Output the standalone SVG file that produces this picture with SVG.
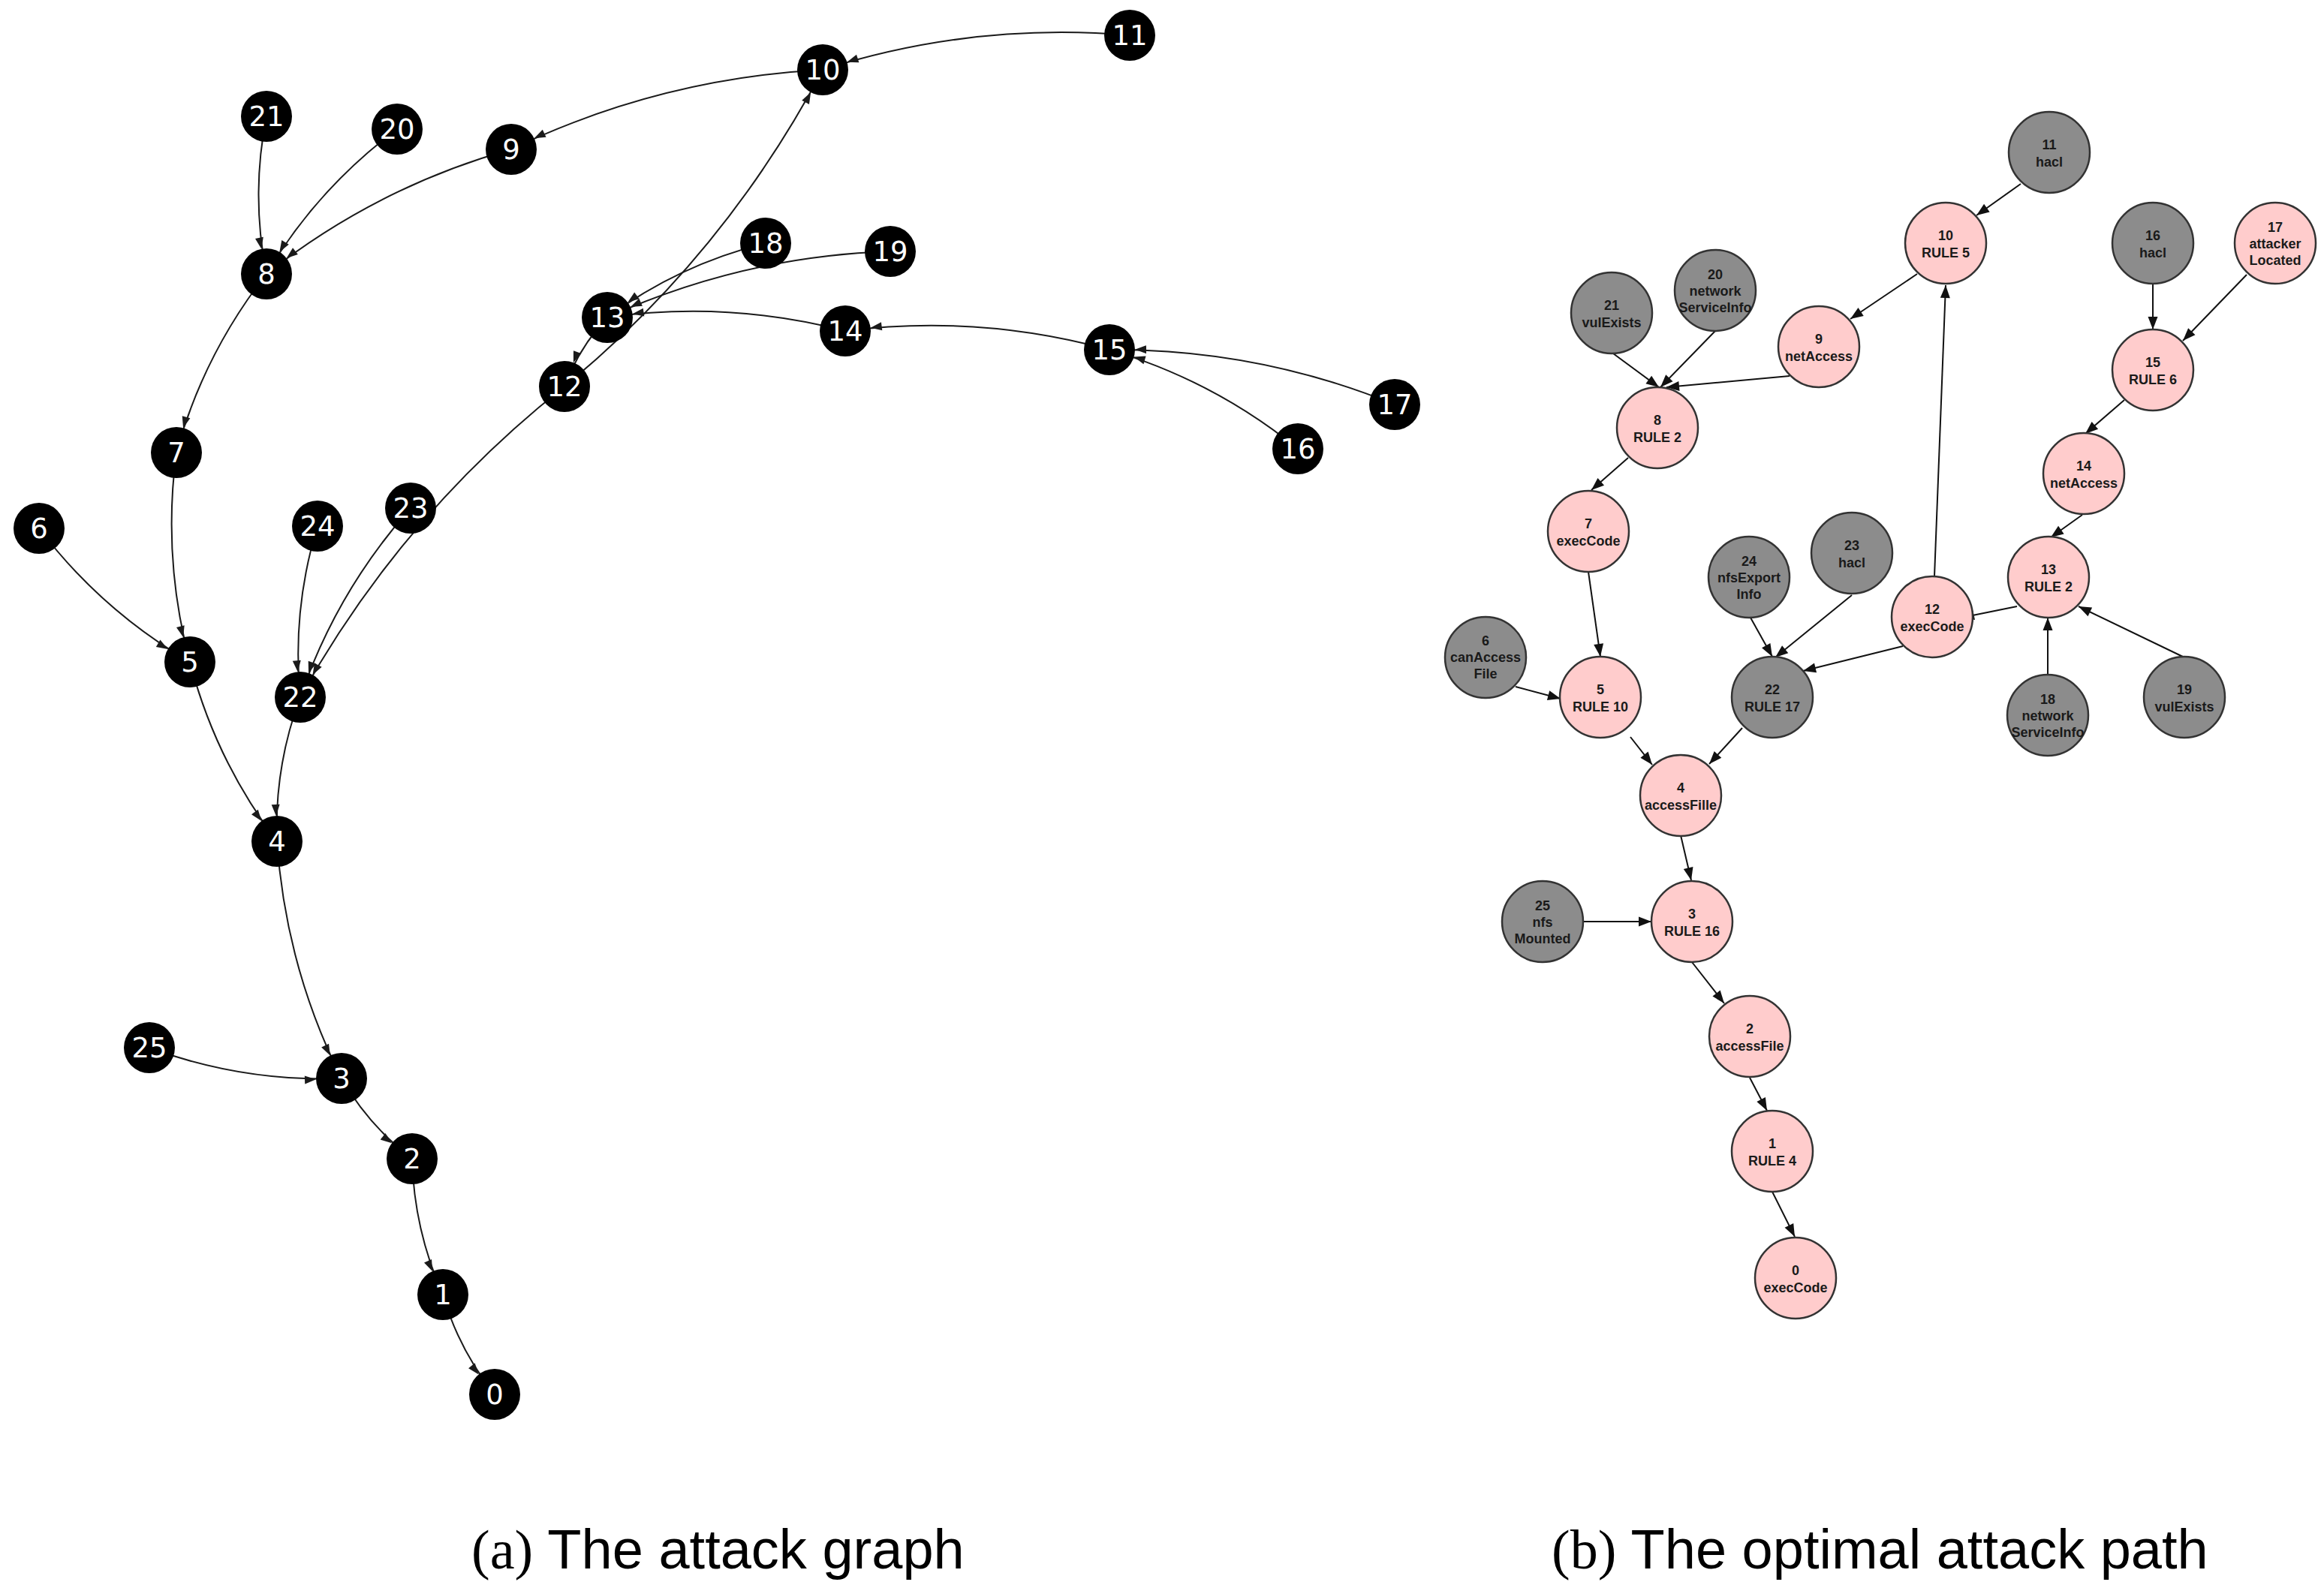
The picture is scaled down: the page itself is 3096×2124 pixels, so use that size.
<svg xmlns="http://www.w3.org/2000/svg" width="3096" height="2124" viewBox="0 0 3096 2124">
<style>
.lk path{fill:none;stroke:#1a1a1a;stroke-width:2;marker-end:url(#al)}
.rk line{stroke:#111;stroke-width:2;marker-end:url(#ar)}
.ln circle{fill:#000}
.ln text{fill:#fff;font-family:"DejaVu Sans",sans-serif;font-size:37px;text-anchor:middle}
.rn circle{stroke:#333;stroke-width:2.5}
.pk circle{fill:#ffcccc}
.gy circle{fill:#8c8c8c}
.rn text{fill:#1a1a1a;font-family:"Liberation Sans",Arial,sans-serif;font-size:18px;font-weight:bold;text-anchor:middle}
.cap{font-family:"Liberation Sans",Arial,sans-serif;font-size:74px;fill:#000}
.cap tspan.s{font-family:"Liberation Serif","Times New Roman",serif}
</style>
<defs>
<marker id="al" markerUnits="userSpaceOnUse" viewBox="-60 -10 70 20" markerWidth="70" markerHeight="20" refX="0" refY="0" orient="auto" overflow="visible">
<path d="M-34,0 L-49,-5.5 L-49,5.5 z" fill="#1a1a1a"/>
</marker>
<marker id="ar" markerUnits="userSpaceOnUse" viewBox="-30 -10 40 20" markerWidth="40" markerHeight="20" refX="0" refY="0" orient="auto" overflow="visible">
<path d="M0,0 L-17,-6.5 L-17,6.5 z" fill="#111"/>
</marker>
</defs>
<rect x="0" y="0" width="3096" height="2124" fill="#fff"/>

<g id="a-edges" class="lk">
<path d="M1505,47 Q1295.9,29.1 1096,93"/>
<path d="M1096,93 Q877.9,104.5 681,199"/>
<path d="M681,199 Q501.4,249.4 355,365"/>
<path d="M355,155 Q334,260 355,365"/>
<path d="M529,172 Q422.7,251.1 355,365"/>
<path d="M355,365 Q271.2,472 235,603"/>
<path d="M235,603 Q216.1,744.3 253,882"/>
<path d="M52,704 Q134.7,813.1 253,882"/>
<path d="M253,882 Q287.1,1013.1 369,1121"/>
<path d="M400,929 Q365.3,1021.9 369,1121"/>
<path d="M423,701 Q388.7,812.7 400,929"/>
<path d="M547,677 Q448.3,788.3 400,929"/>
<path d="M752,515 Q534.6,686.8 400,929"/>
<path d="M752,515 Q966.2,338.4 1096,93"/>
<path d="M809,423 Q771.3,463.3 752,515"/>
<path d="M1126,441 Q969.3,400.3 809,423"/>
<path d="M1478,466 Q1304.5,418.3 1126,441"/>
<path d="M1729,598 Q1616.7,506.9 1478,466"/>
<path d="M1858,539 Q1675.3,464.5 1478,466"/>
<path d="M1020,324 Q904.6,352.4 809,423"/>
<path d="M1186,335 Q988.7,341.3 809,423"/>
<path d="M369,1121 Q380.4,1287.6 455,1437"/>
<path d="M199,1396 Q322.9,1442.1 455,1437"/>
<path d="M455,1437 Q491.3,1499.9 549,1544"/>
<path d="M549,1544 Q551.4,1638.6 590,1725"/>
<path d="M590,1725 Q611.2,1798.4 659,1858"/>
</g>

<g id="a-n0" class="ln"><circle cx="659" cy="1858" r="34"/><text x="659" y="1871">0</text></g>
<g id="a-n1" class="ln"><circle cx="590" cy="1725" r="34"/><text x="590" y="1738">1</text></g>
<g id="a-n2" class="ln"><circle cx="549" cy="1544" r="34"/><text x="549" y="1557">2</text></g>
<g id="a-n3" class="ln"><circle cx="455" cy="1437" r="34"/><text x="455" y="1450">3</text></g>
<g id="a-n4" class="ln"><circle cx="369" cy="1121" r="34"/><text x="369" y="1134">4</text></g>
<g id="a-n5" class="ln"><circle cx="253" cy="882" r="34"/><text x="253" y="895">5</text></g>
<g id="a-n6" class="ln"><circle cx="52" cy="704" r="34"/><text x="52" y="717">6</text></g>
<g id="a-n7" class="ln"><circle cx="235" cy="603" r="34"/><text x="235" y="616">7</text></g>
<g id="a-n8" class="ln"><circle cx="355" cy="365" r="34"/><text x="355" y="378">8</text></g>
<g id="a-n9" class="ln"><circle cx="681" cy="199" r="34"/><text x="681" y="212">9</text></g>
<g id="a-n10" class="ln"><circle cx="1096" cy="93" r="34"/><text x="1096" y="106">10</text></g>
<g id="a-n11" class="ln"><circle cx="1505" cy="47" r="34"/><text x="1505" y="60">11</text></g>
<g id="a-n12" class="ln"><circle cx="752" cy="515" r="34"/><text x="752" y="528">12</text></g>
<g id="a-n13" class="ln"><circle cx="809" cy="423" r="34"/><text x="809" y="436">13</text></g>
<g id="a-n14" class="ln"><circle cx="1126" cy="441" r="34"/><text x="1126" y="454">14</text></g>
<g id="a-n15" class="ln"><circle cx="1478" cy="466" r="34"/><text x="1478" y="479">15</text></g>
<g id="a-n16" class="ln"><circle cx="1729" cy="598" r="34"/><text x="1729" y="611">16</text></g>
<g id="a-n17" class="ln"><circle cx="1858" cy="539" r="34"/><text x="1858" y="552">17</text></g>
<g id="a-n18" class="ln"><circle cx="1020" cy="324" r="34"/><text x="1020" y="337">18</text></g>
<g id="a-n19" class="ln"><circle cx="1186" cy="335" r="34"/><text x="1186" y="348">19</text></g>
<g id="a-n20" class="ln"><circle cx="529" cy="172" r="34"/><text x="529" y="185">20</text></g>
<g id="a-n21" class="ln"><circle cx="355" cy="155" r="34"/><text x="355" y="168">21</text></g>
<g id="a-n22" class="ln"><circle cx="400" cy="929" r="34"/><text x="400" y="942">22</text></g>
<g id="a-n23" class="ln"><circle cx="547" cy="677" r="34"/><text x="547" y="690">23</text></g>
<g id="a-n24" class="ln"><circle cx="423" cy="701" r="34"/><text x="423" y="714">24</text></g>
<g id="a-n25" class="ln"><circle cx="199" cy="1396" r="34"/><text x="199" y="1409">25</text></g>

<g id="b-edges" class="rk">
<line x1="2692" y1="245" x2="2633" y2="287"/>
<line x1="2554" y1="365" x2="2465" y2="425"/>
<line x1="2384" y1="501" x2="2220" y2="516"/>
<line x1="2149" y1="471" x2="2210" y2="516"/>
<line x1="2285" y1="441" x2="2212" y2="516"/>
<line x1="2169" y1="610" x2="2120" y2="653"/>
<line x1="2577" y1="768" x2="2592" y2="380"/>
<line x1="2868" y1="379" x2="2868" y2="439"/>
<line x1="2993" y1="366" x2="2908" y2="454"/>
<line x1="2830" y1="533" x2="2778" y2="578"/>
<line x1="2774" y1="686" x2="2732" y2="716"/>
<line x1="2116" y1="762" x2="2132" y2="875"/>
<line x1="2019" y1="915" x2="2079" y2="931"/>
<line x1="2332" y1="823" x2="2361" y2="875"/>
<line x1="2467" y1="793" x2="2365" y2="876"/>
<line x1="2687" y1="808" x2="2613" y2="823"/>
<line x1="2535" y1="861" x2="2402" y2="894"/>
<line x1="2728" y1="898" x2="2728" y2="823"/>
<line x1="2910" y1="876" x2="2769" y2="808"/>
<line x1="2172" y1="982" x2="2201" y2="1019"/>
<line x1="2321" y1="970" x2="2277" y2="1018"/>
<line x1="2239" y1="1113" x2="2253" y2="1173"/>
<line x1="2109" y1="1228" x2="2200" y2="1228"/>
<line x1="2254" y1="1282" x2="2297" y2="1337"/>
<line x1="2331" y1="1436" x2="2354" y2="1480"/>
<line x1="2361" y1="1588" x2="2391" y2="1648"/>
</g>

<g id="b-n0" class="rn pk"><circle cx="2392" cy="1703" r="54"/><text x="2392" y="1699"><tspan x="2392">0</tspan><tspan x="2392" dy="23">execCode</tspan></text></g>
<g id="b-n1" class="rn pk"><circle cx="2361" cy="1534" r="54"/><text x="2361" y="1530"><tspan x="2361">1</tspan><tspan x="2361" dy="23">RULE 4</tspan></text></g>
<g id="b-n2" class="rn pk"><circle cx="2331" cy="1381" r="54"/><text x="2331" y="1377"><tspan x="2331">2</tspan><tspan x="2331" dy="23">accessFile</tspan></text></g>
<g id="b-n3" class="rn pk"><circle cx="2254" cy="1228" r="54"/><text x="2254" y="1224"><tspan x="2254">3</tspan><tspan x="2254" dy="23">RULE 16</tspan></text></g>
<g id="b-n4" class="rn pk"><circle cx="2239" cy="1060" r="54"/><text x="2239" y="1056"><tspan x="2239">4</tspan><tspan x="2239" dy="23">accessFille</tspan></text></g>
<g id="b-n5" class="rn pk"><circle cx="2132" cy="929" r="54"/><text x="2132" y="925"><tspan x="2132">5</tspan><tspan x="2132" dy="23">RULE 10</tspan></text></g>
<g id="b-n6" class="rn gy"><circle cx="1979" cy="876" r="54"/><text x="1979" y="860"><tspan x="1979">6</tspan><tspan x="1979" dy="22">canAccess</tspan><tspan x="1979" dy="22">File</tspan></text></g>
<g id="b-n7" class="rn pk"><circle cx="2116" cy="708" r="54"/><text x="2116" y="704"><tspan x="2116">7</tspan><tspan x="2116" dy="23">execCode</tspan></text></g>
<g id="b-n8" class="rn pk"><circle cx="2208" cy="570" r="54"/><text x="2208" y="566"><tspan x="2208">8</tspan><tspan x="2208" dy="23">RULE 2</tspan></text></g>
<g id="b-n9" class="rn pk"><circle cx="2423" cy="462" r="54"/><text x="2423" y="458"><tspan x="2423">9</tspan><tspan x="2423" dy="23">netAccess</tspan></text></g>
<g id="b-n10" class="rn pk"><circle cx="2592" cy="324" r="54"/><text x="2592" y="320"><tspan x="2592">10</tspan><tspan x="2592" dy="23">RULE 5</tspan></text></g>
<g id="b-n11" class="rn gy"><circle cx="2730" cy="203" r="54"/><text x="2730" y="199"><tspan x="2730">11</tspan><tspan x="2730" dy="23">hacl</tspan></text></g>
<g id="b-n12" class="rn pk"><circle cx="2574" cy="822" r="54"/><text x="2574" y="818"><tspan x="2574">12</tspan><tspan x="2574" dy="23">execCode</tspan></text></g>
<g id="b-n13" class="rn pk"><circle cx="2729" cy="769" r="54"/><text x="2729" y="765"><tspan x="2729">13</tspan><tspan x="2729" dy="23">RULE 2</tspan></text></g>
<g id="b-n14" class="rn pk"><circle cx="2776" cy="631" r="54"/><text x="2776" y="627"><tspan x="2776">14</tspan><tspan x="2776" dy="23">netAccess</tspan></text></g>
<g id="b-n15" class="rn pk"><circle cx="2868" cy="493" r="54"/><text x="2868" y="489"><tspan x="2868">15</tspan><tspan x="2868" dy="23">RULE 6</tspan></text></g>
<g id="b-n16" class="rn gy"><circle cx="2868" cy="324" r="54"/><text x="2868" y="320"><tspan x="2868">16</tspan><tspan x="2868" dy="23">hacl</tspan></text></g>
<g id="b-n17" class="rn pk"><circle cx="3031" cy="324" r="54"/><text x="3031" y="309"><tspan x="3031">17</tspan><tspan x="3031" dy="22">attacker</tspan><tspan x="3031" dy="22">Located</tspan></text></g>
<g id="b-n18" class="rn gy"><circle cx="2728" cy="953" r="54"/><text x="2728" y="938"><tspan x="2728">18</tspan><tspan x="2728" dy="22">network</tspan><tspan x="2728" dy="22">ServiceInfo</tspan></text></g>
<g id="b-n19" class="rn gy"><circle cx="2910" cy="929" r="54"/><text x="2910" y="925"><tspan x="2910">19</tspan><tspan x="2910" dy="23">vulExists</tspan></text></g>
<g id="b-n20" class="rn gy"><circle cx="2285" cy="387" r="54"/><text x="2285" y="372"><tspan x="2285">20</tspan><tspan x="2285" dy="22">network</tspan><tspan x="2285" dy="22">ServiceInfo</tspan></text></g>
<g id="b-n21" class="rn gy"><circle cx="2147" cy="417" r="54"/><text x="2147" y="413"><tspan x="2147">21</tspan><tspan x="2147" dy="23">vulExists</tspan></text></g>
<g id="b-n22" class="rn gy"><circle cx="2361" cy="929" r="54"/><text x="2361" y="925"><tspan x="2361">22</tspan><tspan x="2361" dy="23">RULE 17</tspan></text></g>
<g id="b-n23" class="rn gy"><circle cx="2467" cy="737" r="54"/><text x="2467" y="733"><tspan x="2467">23</tspan><tspan x="2467" dy="23">hacl</tspan></text></g>
<g id="b-n24" class="rn gy"><circle cx="2330" cy="769" r="54"/><text x="2330" y="754"><tspan x="2330">24</tspan><tspan x="2330" dy="22">nfsExport</tspan><tspan x="2330" dy="22">Info</tspan></text></g>
<g id="b-n25" class="rn gy"><circle cx="2055" cy="1228" r="54"/><text x="2055" y="1213"><tspan x="2055">25</tspan><tspan x="2055" dy="22">nfs</tspan><tspan x="2055" dy="22">Mounted</tspan></text></g>

<text class="cap" x="628" y="2090"><tspan class="s">(a)</tspan> The attack graph</text>
<text class="cap" x="2067" y="2090"><tspan class="s">(b)</tspan> The optimal attack path</text>
</svg>
